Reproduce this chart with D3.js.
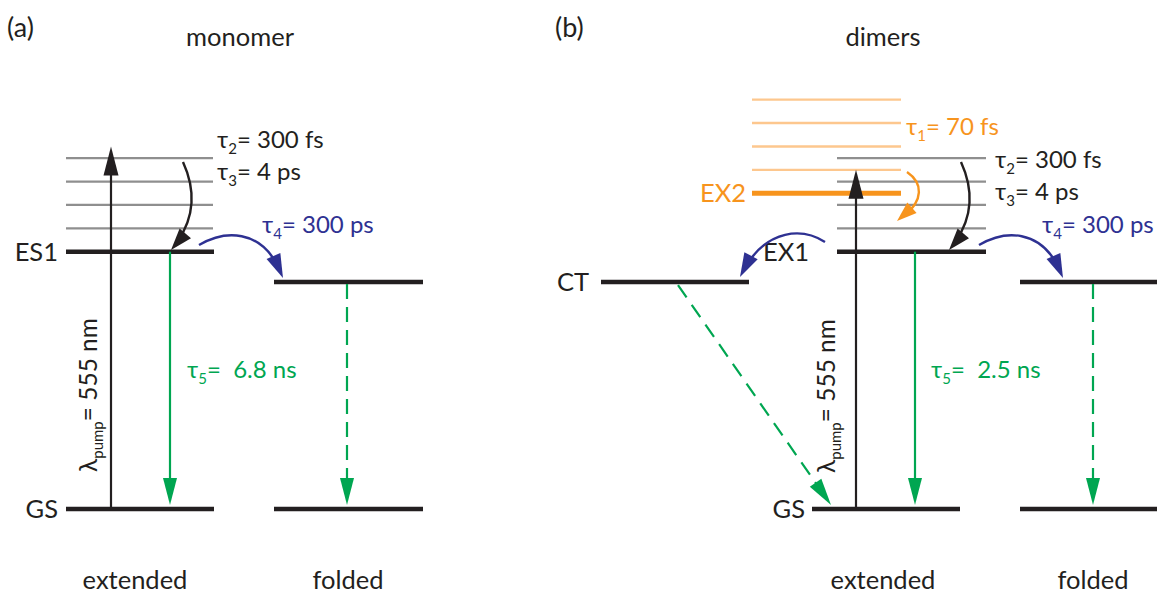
<!DOCTYPE html>
<html><head><meta charset="utf-8">
<script src="https://cdn.jsdelivr.net/npm/d3@7"></script>
<style>
body{margin:0;background:#fff}
text{font-family:Lato,"Open Sans",sans-serif;white-space:pre}
</style>
</head><body>
<svg id="c" width="1157" height="594"></svg>
<script>
// ---------------- data ----------------
const panelLabels = ["(a)", "(b)"];
const panelTitles = ["monomer", "dimers"];
const conformers = ["extended", "folded"];
const stateLabels = ["GS", "ES1", "CT", "EX1", "EX2"];
// energies in units of the vibrational spacing (GS = 0)
const energyGS = 0;
const energyS1 = 11;          // ES1 / EX1
const energyFolded = 9.7;     // folded S1 and CT
const energyEX2 = 13.5;
const vibLevels = [12, 13, 14, 15];
const ex2VibLevels = [14.5, 15.5, 16.5, 17.5];
const pumpTop = [15.5, 14.5]; // top of pump arrow (monomer, dimers)
const pumpLabel = ["\u03bb", "pump", "= 555 nm"];
const monomerTaus = [["2", "300 fs"], ["3", "4 ps"], ["4", "300 ps"], ["5", " 6.8 ns"]];
const dimerTaus = [["1", "70 fs"], ["2", "300 fs"], ["3", "4 ps"], ["4", "300 ps"], ["5", " 2.5 ns"]];

// ---------------- styling ----------------
const C = {black:"#231f20", gray:"#8f8f8f", lorange:"#fdc78e", orange:"#f7941d",
           blue:"#2e3192", green:"#00a651"};
const FS = {panel:27, title:25.5, state:25.5, tau:24, sub:15, pump:24.5};

const svg = d3.select("#c");
const y = d3.scaleLinear().domain([0, 11]).range([509, 251.7]);

function hline(x1, x2, e, color, w){
  svg.append("line").attr("x1",x1).attr("x2",x2).attr("y1",y(e)).attr("y2",y(e))
    .attr("stroke",color).attr("stroke-width",w);
}
function head(tip, from, len, wid, color){
  const dx = tip[0]-from[0], dy = tip[1]-from[1], L = Math.hypot(dx,dy);
  const ux = dx/L, uy = dy/L, bx = tip[0]-ux*len, by = tip[1]-uy*len;
  const px = -uy*wid/2, py = ux*wid/2;
  svg.append("path").attr("d",`M${tip[0]},${tip[1]}L${bx+px},${by+py}L${bx-px},${by-py}Z`)
    .attr("fill",color);
}
function straightArrow(p0, tip, color, len, wid, dash){
  const dx = tip[0]-p0[0], dy = tip[1]-p0[1], L = Math.hypot(dx,dy);
  const end = [tip[0]-dx/L*len*0.6, tip[1]-dy/L*len*0.6];
  const ln = svg.append("line").attr("x1",p0[0]).attr("y1",p0[1]).attr("x2",end[0]).attr("y2",end[1])
    .attr("stroke",color).attr("stroke-width",2.2);
  if (dash) ln.attr("stroke-dasharray",dash);
  head(tip, p0, len, wid, color);
}
function curveArrow(d, ctrl, tip, color, len, wid){
  const p = svg.append("path").attr("d",d).attr("fill","none").attr("stroke",color).attr("stroke-width",2.4);
  const L = p.node().getTotalLength();
  p.attr("stroke-dasharray", `${L-len*0.5},1000`);
  head(tip, ctrl, len, wid, color);
}
function text(x, yy, s, size, color, anchor){
  return svg.append("text").attr("x",x).attr("y",yy).attr("font-size",size)
    .attr("fill",color||C.black).attr("text-anchor",anchor||"start").text(s);
}
function tau(x, yy, t, color){
  const tx = svg.append("text").attr("x",x).attr("y",yy).attr("font-size",FS.tau).attr("fill",color);
  tx.append("tspan").text("\u03c4");
  tx.append("tspan").attr("dy",6).attr("font-size",FS.sub).text(t[0]);
  tx.append("tspan").attr("dy",-6).text("= " + t[1]);
}
function pumpText(x, yy){
  const tx = svg.append("text").attr("transform",`translate(${x},${yy}) rotate(-90)`)
    .attr("font-size",FS.pump).attr("fill",C.black);
  tx.append("tspan").text(pumpLabel[0]);
  tx.append("tspan").attr("dy",6).attr("font-size",FS.sub).text(pumpLabel[1]);
  tx.append("tspan").attr("dy",-6).text(pumpLabel[2]);
}

// ---------------- panel (a) ----------------
text(7, 37, panelLabels[0], FS.panel);
text(240, 46, panelTitles[0], FS.title, C.black, "middle");
text(135, 589, conformers[0], FS.title, C.black, "middle");
text(348, 589, conformers[1], FS.title, C.black, "middle");

vibLevels.forEach(e => hline(66, 213, e, C.gray, 2.2));
hline(66, 214, energyS1, C.black, 4.5);
hline(66, 214, energyGS, C.black, 4.5);
hline(274, 423, energyFolded, C.black, 4.5);
hline(274, 423, energyGS, C.black, 4.5);
text(58, y(energyS1)+9, stateLabels[1], FS.state, C.black, "end");
text(58, y(energyGS)+9, stateLabels[0], FS.state, C.black, "end");

straightArrow([111, y(energyGS)], [111, y(pumpTop[0])], C.black, 29, 15);
pumpText(97, 472);
straightArrow([170, y(energyS1)], [170, y(energyGS)-4], C.green, 27, 14);
straightArrow([347, y(energyFolded)+2], [347, y(energyGS)-4], C.green, 27, 14, "15,8");
curveArrow("M183,162 Q205,210 171,250", [195,222], [171,250], C.black, 22, 15);
curveArrow("M199,245 C228,228 266,230 283,278", [270,248], [283,278], C.blue, 24, 15);

tau(217, 148, monomerTaus[0], C.black);
tau(217, 180, monomerTaus[1], C.black);
tau(262, 233, monomerTaus[2], C.blue);
tau(187, 378, monomerTaus[3], C.green);

// ---------------- panel (b) ----------------
text(555, 37, panelLabels[1], FS.panel);
text(883, 46, panelTitles[1], FS.title, C.black, "middle");
text(883, 589, conformers[0], FS.title, C.black, "middle");
text(1093, 589, conformers[1], FS.title, C.black, "middle");

ex2VibLevels.forEach(e => hline(752, 901, e, C.lorange, 2.4));
hline(752, 901, energyEX2, C.orange, 5);
vibLevels.forEach(e => hline(837, 986, e, C.gray, 2.2));
hline(837, 986, energyS1, C.black, 4.5);
hline(601, 749, energyFolded, C.black, 4.5);
hline(812, 960, energyGS, C.black, 4.5);
hline(1020, 1170, energyFolded, C.black, 4.5);
hline(1020, 1170, energyGS, C.black, 4.5);

text(805, y(energyGS)+9, stateLabels[0], FS.state, C.black, "end");
text(589, y(energyFolded)+9, stateLabels[2], FS.state, C.black, "end");
text(763, 261, stateLabels[3], FS.state, C.black, "start");
text(746, y(energyEX2)+9, stateLabels[4], FS.state, C.orange, "end");

straightArrow([856, y(energyGS)], [856, y(pumpTop[1])], C.black, 29, 15);
pumpText(835, 473);
straightArrow([915, y(energyS1)], [915, y(energyGS)-4], C.green, 27, 14);
straightArrow([1093, y(energyFolded)+2], [1093, y(energyGS)-4], C.green, 27, 14, "15,8");
straightArrow([678, y(energyFolded)+3], [831, 505], C.green, 27, 14, "15,9");

curveArrow("M907,172 C926,185 922,205 897,221", [915,205], [897,221], C.orange, 20, 14);
curveArrow("M961,162 Q983,210 949,250", [973,222], [949,250], C.black, 22, 15);
curveArrow("M979,245 C1008,228 1046,230 1063,278", [1050,248], [1063,278], C.blue, 24, 15);
curveArrow("M825,242 C800,226 762,230 740,277", [755,248], [740,277], C.blue, 24, 15);

tau(906, 135, dimerTaus[0], C.orange);
tau(995, 168, dimerTaus[1], C.black);
tau(995, 200, dimerTaus[2], C.black);
tau(1042, 233, dimerTaus[3], C.blue);
tau(931, 378, dimerTaus[4], C.green);
</script>
</body></html>
